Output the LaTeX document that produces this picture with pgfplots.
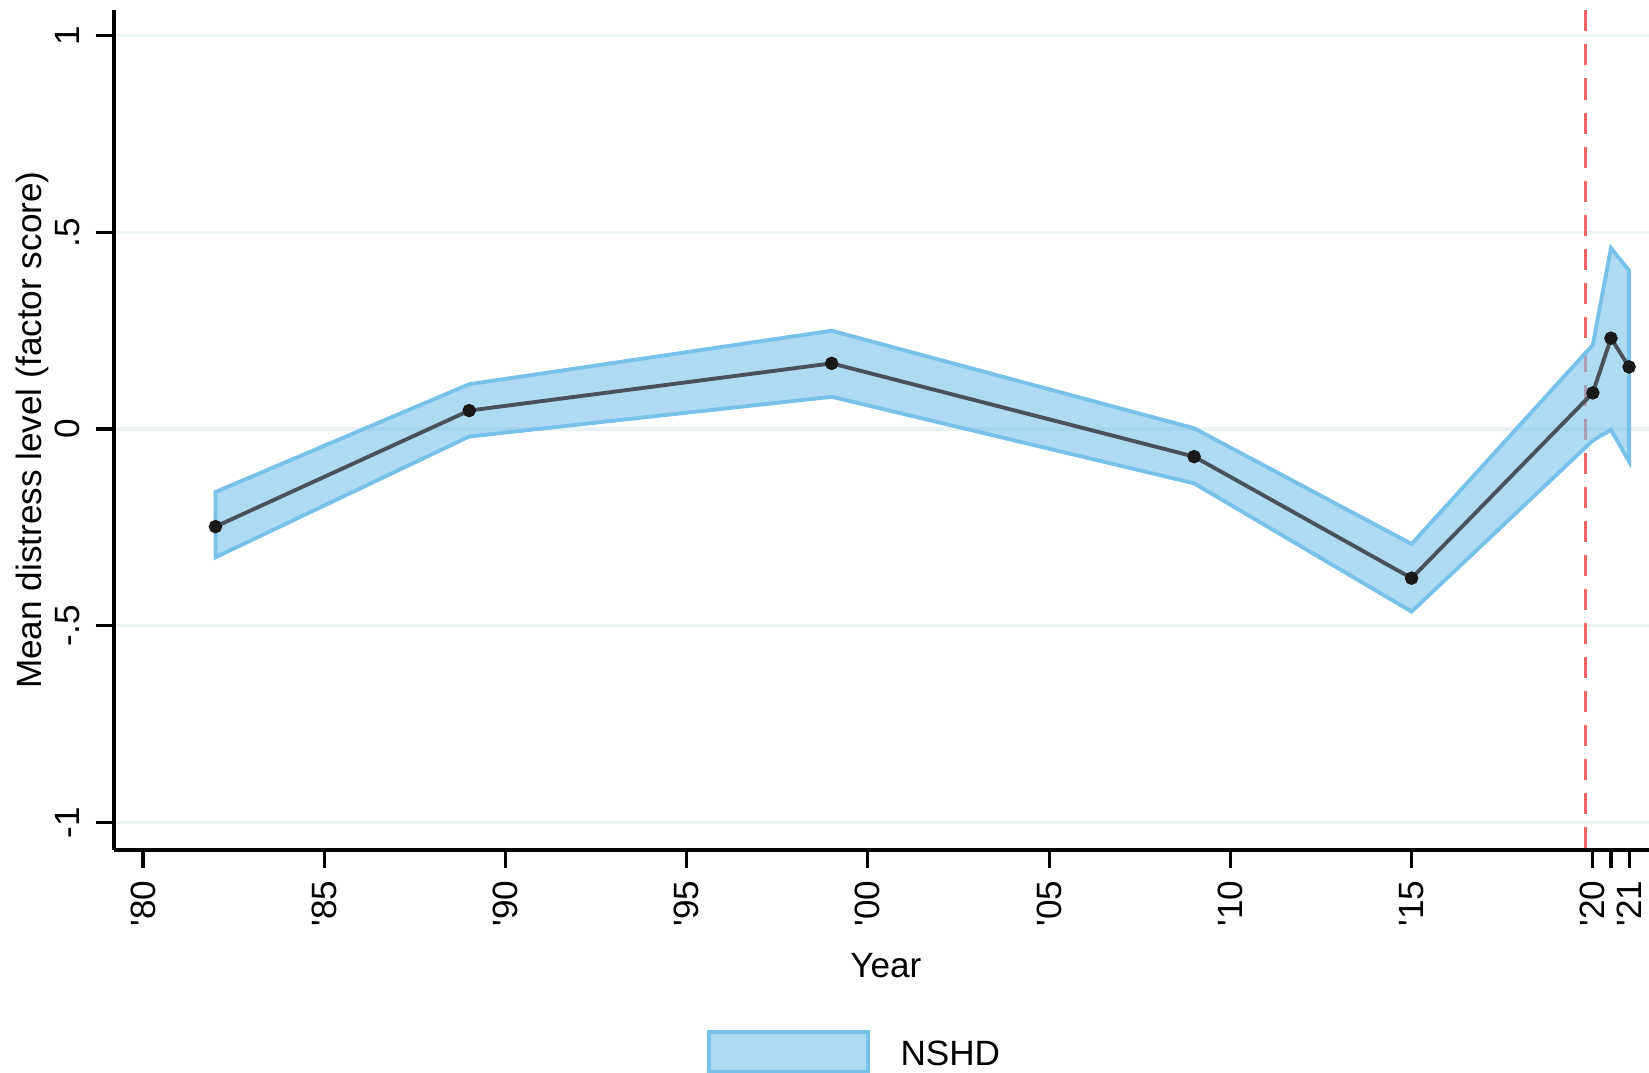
\documentclass[border=0pt]{standalone}
\usepackage{fontspec}
\setmainfont{Liberation Sans}
\usepackage{pgfplots}
\pgfplotsset{compat=1.18}
\definecolor{bandc}{RGB}{120,194,234}
\definecolor{linec}{RGB}{72,82,92}
\definecolor{gridc}{RGB}{234,242,243}
\definecolor{redc}{RGB}{242,102,102}
\begin{document}
\begin{tikzpicture}
\useasboundingbox (-11.36mm,-22.3mm) rectangle (153.54mm,84.98mm);
\begin{axis}[
  at={(0,0)}, anchor=south west,
  scale only axis, width=153.54mm, height=83.93mm,
  xmin=1979.19, xmax=2021.55, ymin=-1.0695, ymax=1.064,
  axis x line*=bottom, axis y line*=left,
  axis line style={black, line width=1.1pt, -},
  xtick={1980,1985,1990,1995,2000,2005,2010,2015,2020,2020.5,2021},
  xticklabels={\textquotesingle80,\textquotesingle85,\textquotesingle90,\textquotesingle95,\textquotesingle00,\textquotesingle05,\textquotesingle10,\textquotesingle15,\textquotesingle20,,\textquotesingle21},
  ytick={-1,-0.5,0,0.5,1},
  yticklabels={-1,-.5,0,.5,1},
  tick align=outside, major tick length=1.8mm,
  tick style={black, line width=0.9pt},
  xticklabel style={rotate=90, anchor=east, inner sep=1.2mm, font=\fontsize{10}{12}\selectfont},
  yticklabel style={rotate=90, anchor=south, inner sep=1.5mm, font=\fontsize{10}{12}\selectfont},
  ymajorgrids, grid style={gridc, line width=0.9pt},
  xlabel={Year},
  xlabel style={at={(axis description cs:0.503,-0.1525)}, anchor=base, font=\fontsize{10}{12}\selectfont},
  ylabel={Mean distress level (factor score)},
  ylabel style={at={(axis description cs:-0.0637,0.5)}, anchor=north, inner sep=0pt, font=\fontsize{10}{12}\selectfont},
  legend style={at={(axis description cs:0.482,-0.2404)}, anchor=center, draw=none, fill=none,
    font=\fontsize{10}{12}\selectfont, nodes={inner sep=0pt},
    /tikz/every odd column/.append style={column sep=3.05mm}},
  clip=true,
]
\addplot[redc, line width=0.95pt, dash pattern=on 2.1mm off 1.3mm, forget plot]
  coordinates {(2019.8,1.064) (2019.8,-1.0695)};
\addplot[draw=bandc, line width=1.1pt, fill=bandc, fill opacity=0.6, draw opacity=1,
  line join=miter,
  legend image code/.code={\draw[draw=bandc, line width=1.1pt, fill=bandc, fill opacity=0.6] (0mm,-1.58mm) rectangle (15.9mm,2.42mm);}]
  coordinates {
   (1982,-0.160) (1989,0.114) (1999,0.250) (2009,0.002) (2015,-0.292) (2020,0.214) (2020.5,0.460) (2021,0.403)
   (2021,-0.082) (2020.5,-0.002) (2020,-0.029) (2015,-0.464) (2009,-0.138) (1999,0.082) (1989,-0.019) (1982,-0.326)
  } -- cycle;
\addlegendentry{NSHD}
\addplot[linec, line width=1.1pt, mark=*, mark size=1.35pt, mark options={fill=black!90, draw=black!90}, forget plot]
  coordinates {(1982,-0.248) (1989,0.047) (1999,0.167) (2009,-0.070) (2015,-0.379) (2020,0.092) (2020.5,0.231) (2021,0.158)};
\end{axis}
\end{tikzpicture}
\end{document}
